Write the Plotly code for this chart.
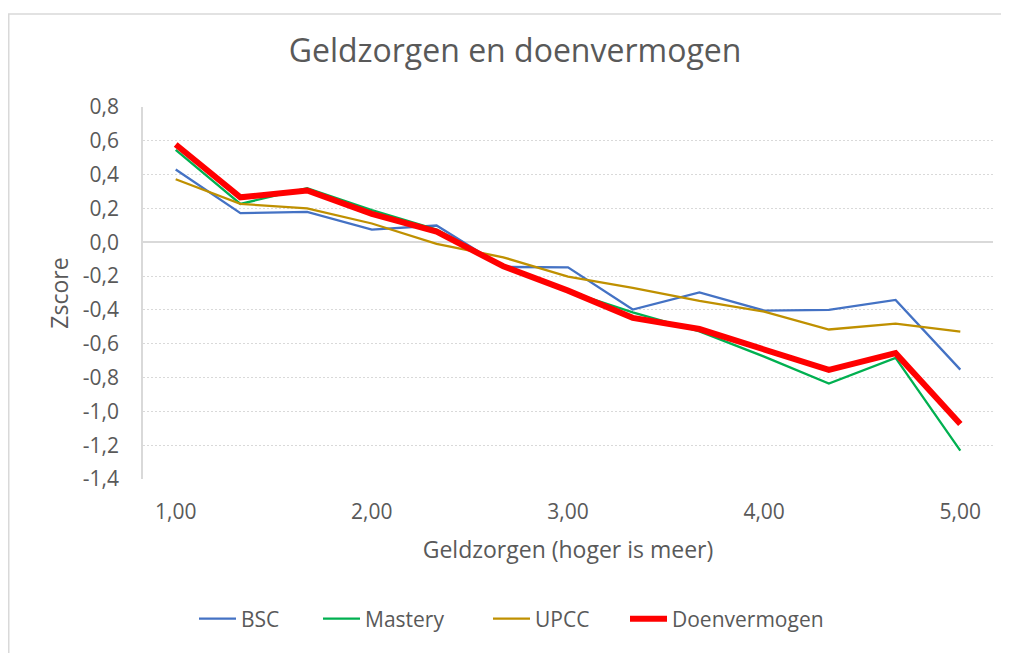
import plotly.graph_objects as go

# ---- data ----
x_values = [1.00, 1.33, 1.67, 2.00, 2.33, 2.67, 3.00, 3.33, 3.67, 4.00, 4.33, 4.67, 5.00]
bsc = [0.43, 0.172, 0.18, 0.075, 0.099, -0.146, -0.148, -0.398, -0.297, -0.404, -0.400, -0.341, -0.753]
mastery = [0.547, 0.227, 0.320, 0.190, 0.075, -0.138, -0.288, -0.414, -0.527, -0.676, -0.835, -0.684, -1.232]
upcc = [0.373, 0.227, 0.200, 0.111, -0.010, -0.089, -0.203, -0.270, -0.346, -0.410, -0.516, -0.481, -0.528]
doenvermogen = [0.578, 0.266, 0.306, 0.168, 0.063, -0.142, -0.286, -0.447, -0.513, -0.635, -0.755, -0.656, -1.075]

series_names = ["BSC", "Mastery", "UPCC", "Doenvermogen"]
x_tick_vals = [1, 2, 3, 4, 5]
x_tick_text = ["1,00", "2,00", "3,00", "4,00", "5,00"]
y_tick_vals = [0.8, 0.6, 0.4, 0.2, 0.0, -0.2, -0.4, -0.6, -0.8, -1.0, -1.2, -1.4]
y_tick_text = ["0,8", "0,6", "0,4", "0,2", "0,0", "-0,2", "-0,4", "-0,6", "-0,8", "-1,0", "-1,2", "-1,4"]

title_text = "Geldzorgen en doenvermogen"
x_title = "Geldzorgen (hoger is meer)"
y_title = "Zscore"

# ---- styles ----
FONT = "Open Sans"
TXT = "#595959"
GRID = "#d9d9d9"
colors = ["#4472C4", "#00B050", "#BF9000", "#FF0000"]
widths = [2.3, 2.3, 2.3, 6]
legend_ids = ["legend", "legend2", "legend3", "legend4"]
legend_line_x = [199, 323, 493, 630]   # reference pixel where legend line starts

OFF = 8  # page body margin
W, H = 1009 - OFF, 653 - OFF
L, R, T, B = 143 - OFF, 16, 107 - OFF, 174
pw, ph = W - L - R, H - T - B


def px2paper_x(px):
    return (px - OFF - L) / pw


def py2paper_y(py):
    return (H - B - (py - OFF)) / ph


fig = go.Figure()
for name, ys, c, w, lg in zip(series_names, [bsc, mastery, upcc, doenvermogen], colors, widths, legend_ids):
    fig.add_trace(go.Scatter(x=x_values, y=ys, mode="lines", name=name, legend=lg,
                             line=dict(color=c, width=w)))

legends = {}
for lg, lx in zip(legend_ids, legend_line_x):
    legends[lg] = dict(orientation="h", x=px2paper_x(lx - 5), xanchor="left",
                       y=py2paper_y(619), yanchor="middle", itemwidth=37,
                       font=dict(family=FONT, size=21, color=TXT),
                       bgcolor="rgba(0,0,0,0)")

fig.update_layout(
    width=W, height=H,
    margin=dict(l=L, r=R, t=T, b=B, autoexpand=False),
    paper_bgcolor="white", plot_bgcolor="white",
    font=dict(family=FONT, color=TXT, size=21),
    title=dict(text=title_text, x=(515 - OFF) / W, xref="container", xanchor="center",
               y=1 - (51 - OFF) / H, yref="container", yanchor="middle",
               font=dict(family=FONT, size=32, color=TXT)),
    showlegend=True,
    xaxis=dict(range=[1 - 1 / 6, 5 + 1 / 6], tickvals=x_tick_vals, ticktext=x_tick_text,
               showgrid=False, zeroline=False, showline=False, ticks="",
               ticklabelstandoff=18,
               tickfont=dict(family=FONT, size=21, color=TXT),
               title=dict(text=x_title, standoff=17,
                          font=dict(family=FONT, size=23, color=TXT))),
    yaxis=dict(range=[-1.4, 0.8], tickvals=y_tick_vals, ticktext=y_tick_text,
               showgrid=True, gridcolor=GRID, gridwidth=1.3, griddash="2px,2px",
               zeroline=True, zerolinecolor=GRID, zerolinewidth=1.5,
               showline=True, linecolor=GRID, linewidth=1.5, ticks="",
               ticklabelstandoff=18,
               tickfont=dict(family=FONT, size=21, color=TXT),
               title=dict(text=y_title, standoff=8,
                          font=dict(family=FONT, size=23, color=TXT))),
    shapes=[dict(type="rect", xref="paper", yref="paper",
                 x0=px2paper_x(8.75), x1=px2paper_x(1020),
                 y0=py2paper_y(670), y1=py2paper_y(14),
                 line=dict(color=GRID, width=1.5), fillcolor="rgba(0,0,0,0)",
                 layer="below")],
    **legends,
)

fig.write_html("out.html")
